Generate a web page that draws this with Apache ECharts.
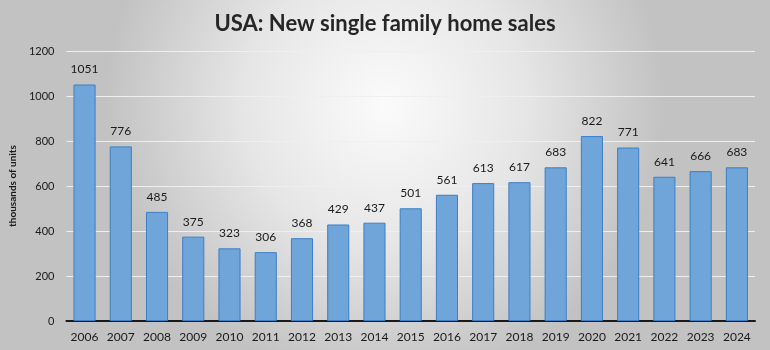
<!DOCTYPE html>
<html><head><meta charset="utf-8">
<script src="https://cdn.jsdelivr.net/npm/echarts@6/dist/echarts.min.js"></script>
<style>html,body{margin:0;padding:0;}#c{width:770px;height:350px;}</style>
</head><body><div id="c"></div>
<script>
const years = ['2006','2007','2008','2009','2010','2011','2012','2013','2014','2015','2016','2017','2018','2019','2020','2021','2022','2023','2024'];
const sales = [1051,776,485,375,323,306,368,429,437,501,561,613,617,683,822,771,641,666,683];
const yTicks = {min:0, max:1200, interval:200};
const title = 'USA: New single family home sales';
const yName = 'thousands of units';

const chart = echarts.init(document.getElementById('c'));
chart.setOption({
  animation:false,
  backgroundColor:{type:'radial',x:0.5,y:0.3,r:0.8,colorStops:[{offset:0,color:'#fbfbfb'},{offset:0.5,color:'#e6e6e6'},{offset:1,color:'#c2c2c2'}]},
  title:{text:title,left:'center',top:8,textStyle:{fontFamily:'Lato',fontWeight:'bold',fontSize:22,color:'#262626'}},
  grid:{left:66,right:15,top:51,bottom:29,containLabel:false},
  xAxis:{type:'category',data:years,
    axisLine:{lineStyle:{color:'#1a1a1a',width:2}},axisTick:{show:false},
    axisLabel:{interval:0,fontFamily:'Lato',fontSize:12,color:'#1a1a1a',margin:10}},
  yAxis:{type:'value',min:yTicks.min,max:yTicks.max,interval:yTicks.interval,
    name:yName,nameLocation:'middle',nameGap:40,
    nameTextStyle:{fontFamily:'Lato',fontWeight:'bold',fontSize:10,color:'#1a1a1a'},
    axisLine:{show:false},axisTick:{show:false},
    splitLine:{lineStyle:{color:'#efefef',width:1}},
    axisLabel:{formatter:v=>String(v),fontFamily:'Lato',fontSize:11,color:'#1a1a1a',margin:12}},
  series:[{type:'bar',data:sales,barCategoryGap:'39%',
    itemStyle:{color:'#6fa5d8',borderColor:'#3d7fc6',borderWidth:1},
    label:{show:true,position:'top',distance:9,fontFamily:'Lato',fontSize:12,color:'#1a1a1a'}}]
});
</script></body></html>
